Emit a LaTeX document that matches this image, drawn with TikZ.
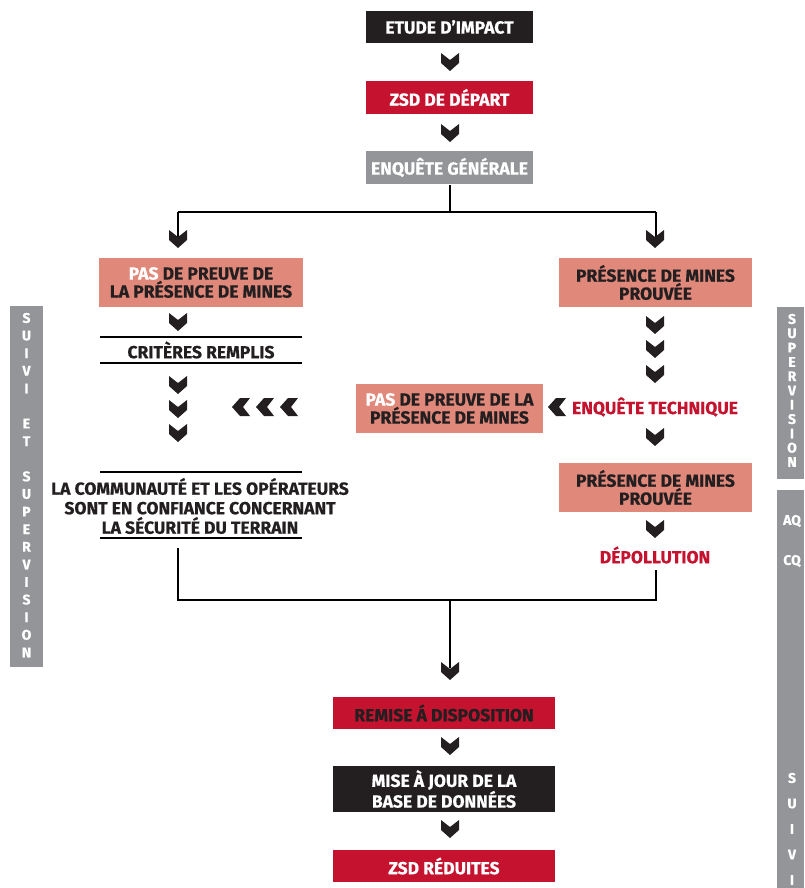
\documentclass[tikz,border=0pt]{standalone}
\usepackage{fontspec}
\setmainfont{Fira Sans}[BoldFeatures={FakeBold=0.5}]
\usetikzlibrary{positioning,calc}

\definecolor{inkblack}{HTML}{231F20}
\definecolor{minered}{HTML}{C4122F}
\definecolor{stepgray}{HTML}{939598}
\definecolor{salmon}{HTML}{E0887A}

\begin{document}
\begin{tikzpicture}[x=1pt,y=-1pt,line width=1.5pt,
    box/.style={rectangle,inner sep=0pt,align=center,
                font=\bfseries\fontsize{17.5}{18}\selectfont},
    dark box/.style={box,fill=inkblack,text=white,minimum width=167pt,minimum height=32pt},
    red box/.style={box,fill=minered,text=white,minimum width=167pt,minimum height=33pt},
    gray box/.style={box,fill=stepgray,text=white,minimum width=167pt,minimum height=33pt},
    mine box/.style={box,fill=salmon,text=inkblack,minimum height=49pt},
    plain text/.style={box,text=inkblack},
    red text/.style={box,text=minered},
    bar letter/.style={inner sep=0pt,text=white,font=\bfseries\fontsize{14}{14}\selectfont},
    chevdown/.pic={\fill[inkblack] (-9,0) -- (0,7) -- (9,0) -- (9,10) -- (0,18) -- (-9,10) -- cycle;},
    chevleft/.pic={\fill[inkblack] (0,-9) -- (-7,0) -- (0,9) -- (-10,9) -- (-18,0) -- (-10,-9) -- cycle;}]

  \useasboundingbox (0,0) rectangle (804,888);

  % side bars
  \fill[stepgray] (10,306) rectangle (43,667);
  \foreach \l [count=\i from 0] in {S,U,I,V,I,{},E,T,{},S,U,P,E,R,V,I,S,I,O,N}
    \node[bar letter] at (26.5,318+17.6*\i) {\l};
  \fill[stepgray] (777,307) rectangle (804,479);
  \foreach \l [count=\i from 0] in {S,U,P,E,R,V,I,S,I,O,N}
    \node[bar letter] at (792,319+14.3*\i) {\l};
  \fill[stepgray] (777,490) rectangle (804,888);
  \node[bar letter] at (792,521) {AQ};
  \node[bar letter] at (792,561) {CQ};
  \foreach \l [count=\i from 0] in {S,U,I,V,I}
    \node[bar letter] at (792,778+25.5*\i) {\l};

  % centre column
  \node[dark box] (etude) at (449.5,27) {ETUDE D’IMPACT};
  \node[red box] (zsd) at (449.5,97.5) {ZSD DE DÉPART};
  \node[gray box] (enquete) at (449.5,167.5) {ENQUÊTE GÉNÉRALE};
  \pic at (450,53) {chevdown};
  \pic at (450,124) {chevdown};

  % left branch
  \node[mine box,minimum width=204pt] (pasleft) at (201,282.5)
    {{\color{white}PAS} DE PREUVE DE\\LA PRÉSENCE DE MINES};
  \node[plain text] (criteres) at (201,350) {CRITÈRES REMPLIS};
  \node[plain text,font=\bfseries\fontsize{17.5}{19.5}\selectfont] (confiance) at (200,506)
    {LA COMMUNAUTÉ ET LES OPÉRATEURS\\SONT EN CONFIANCE CONCERNANT\\LA SÉCURITÉ DU TERRAIN};
  \draw (100,337) -- (302,337) (100,363) -- (302,363);
  \draw (100,472) -- (302,472) (100,538) -- (302,538);
  \foreach \y in {313,376,400,424}
    \pic at (178,\y) {chevdown};
  \foreach \x in {250,274,298}
    \pic at (\x,407) {chevleft};

  % right branch
  \node[mine box,minimum width=193pt] (presence1) at (655.5,282.5) {PRÉSENCE DE MINES\\PROUVÉE};
  \node[mine box,minimum width=187pt] (pasmid) at (449.5,408.5)
    {{\color{white}PAS} DE PREUVE DE LA\\PRÉSENCE DE MINES};
  \node[red text] (technique) at (655,407) {ENQUÊTE TECHNIQUE};
  \node[mine box,minimum width=193pt] (presence2) at (655.5,487.5) {PRÉSENCE DE MINES\\PROUVÉE};
  \node[red text] (depollution) at (655,555) {DÉPOLLUTION};
  \foreach \y in {316,340,365,428,520}
    \pic at (655,\y) {chevdown};
  \pic at (566,407) {chevleft};

  % fork and merge
  \coordinate (split) at (450,212);
  \coordinate (forkL) at (178,212);
  \coordinate (forkR) at (656,212);
  \coordinate (dropL) at (178,548);
  \coordinate (dropR) at (656,570);
  \coordinate (mergeL) at (178,600);
  \coordinate (mergeR) at (656,600);
  \coordinate (mergeC) at (450,600);
  \draw (enquete.south -| split) -- (split);
  \draw (forkL) -- (forkR);
  \draw (forkL) -- ++(0,25);
  \draw (forkR) -- ++(0,25);
  \pic at (178,230) {chevdown};
  \pic at (655,230) {chevdown};
  \draw (dropL) -- (mergeL) -- (mergeR) -- (dropR);
  \draw (mergeC) -- ++(0,68);
  \pic at (450,662) {chevdown};

  % bottom column
  \node[red box,text=inkblack,minimum width=222pt,minimum height=32pt] (remise) at (444,713)
    {REMISE Á DISPOSITION};
  \node[dark box,minimum width=222pt,minimum height=46pt] (miseajour) at (444,789)
    {MISE À JOUR DE LA\\BASE DE DONNÉES};
  \node[red box,minimum width=222pt,minimum height=32pt] (reduites) at (444,866) {ZSD RÉDUITES};
  \pic at (450,737) {chevdown};
  \pic at (450,820) {chevdown};
\end{tikzpicture}
\end{document}
